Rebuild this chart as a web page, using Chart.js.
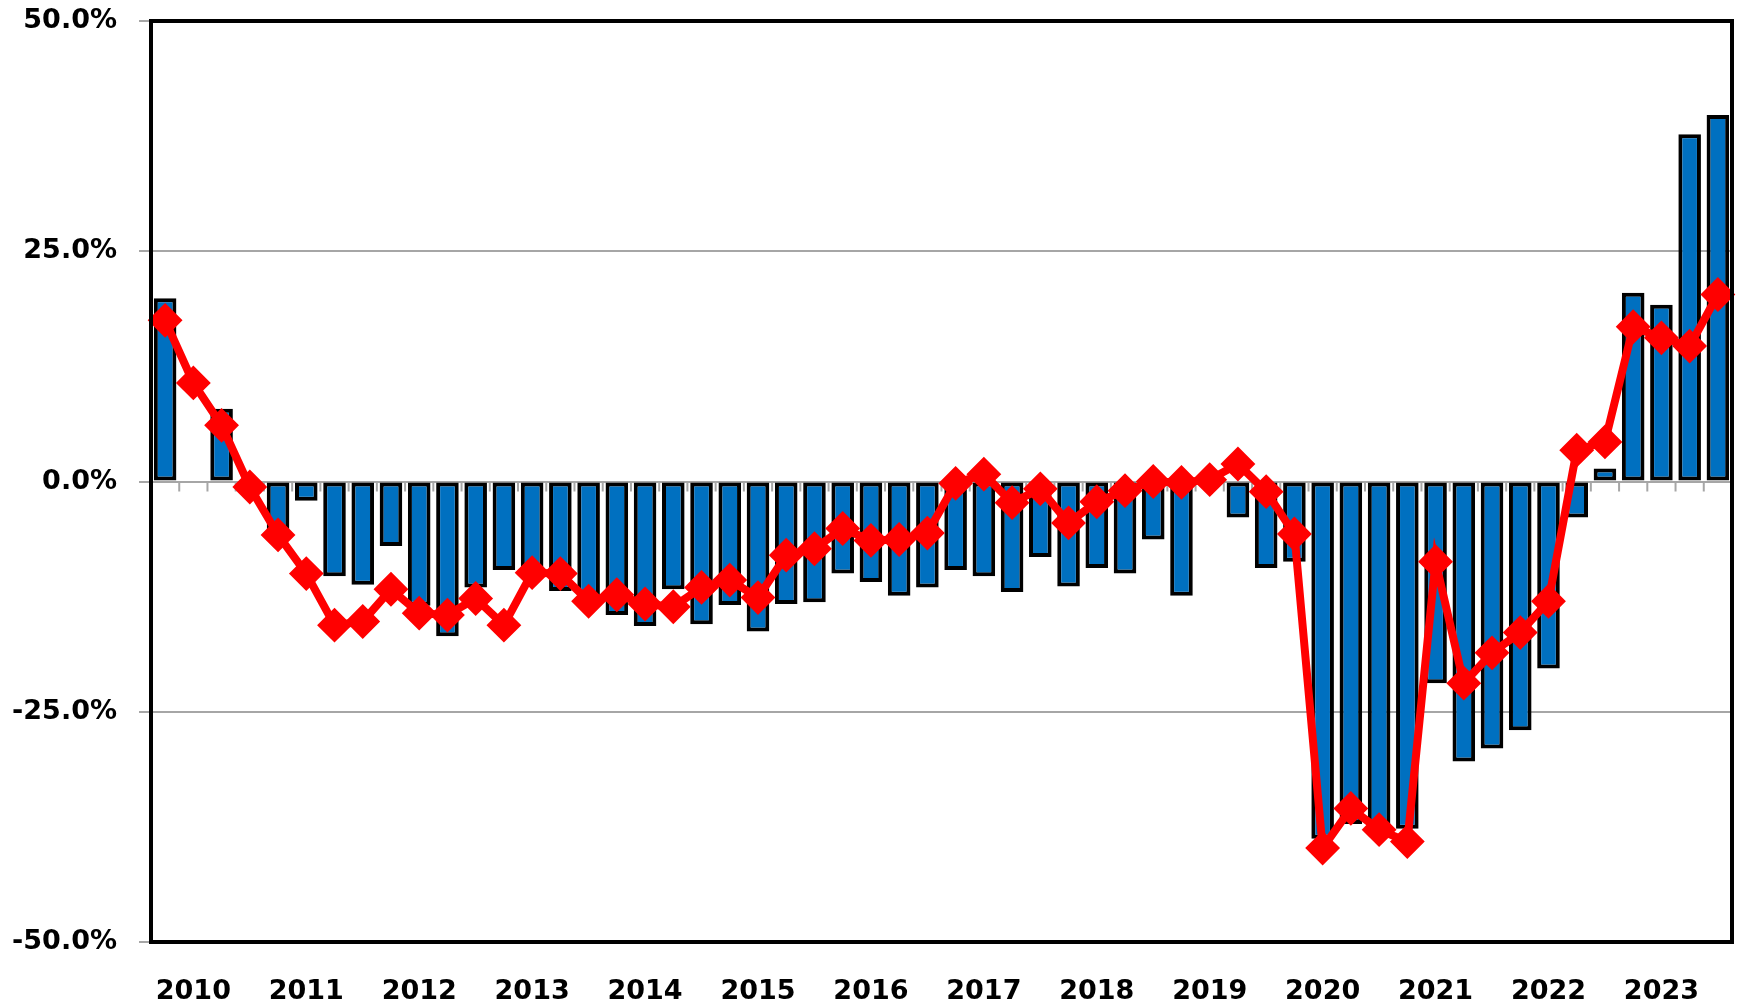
<!DOCTYPE html>
<html>
<head>
<meta charset="utf-8">
<script src="https://cdn.jsdelivr.net/npm/chart.js@4"></script>
<style>
  html, body { margin: 0; padding: 0; background: #fff; }
  #wrap { width: 1750px; height: 1007px; }
</style>
</head>
<body>
<div id="wrap"><canvas id="chart" width="1750" height="1007"></canvas></div>
<script>
const years = ['2010', '2011', '2012', '2013', '2014', '2015', '2016', '2017', '2018', '2019', '2020', '2021', '2022', '2023'];
const quarters = ['Q1', 'Q2', 'Q3', 'Q4'];

// quarterly change (bars)
const barValues = [
  19.9, 0, 7.9, 0,
  -5.6, -2.1, -10.3, -11.2,
  -7.0, -13.5, -16.8, -11.5,
  -9.6, -10.0, -11.9, -13.0,
  -14.5, -15.7, -11.7, -15.5,
  -13.4, -16.3, -13.3, -13.1,
  -10.0, -10.9, -12.4, -11.5,
  -9.6, -10.3, -12.0, -8.2,
  -11.4, -9.4, -10.0, -6.3,
  -12.4, 0, -3.9, -9.4,
  -8.7, -38.8, -37.2, -37.6,
  -37.7, -21.9, -30.4, -29.0,
  -27.0, -20.3, -3.9, 1.4,
  20.5, 19.2, 37.7, 39.8
];

// red line
const lineValues = [
  17.5, 10.7, 6.1, -0.6,
  -5.8, -10.0, -15.6, -15.2,
  -11.7, -14.3, -14.5, -12.7,
  -15.6, -9.9, -10.0, -13.0,
  -12.3, -13.3, -13.6, -11.5,
  -10.7, -12.6, -8.0, -7.3,
  -5.1, -6.4, -6.3, -5.6,
  -0.2, 0.8, -2.3, -0.8,
  -4.5, -2.2, -1.0, 0.0,
  -0.1, 0.2, 1.9, -1.1,
  -5.7, -39.8, -35.5, -37.8,
  -39.1, -8.7, -21.9, -18.6,
  -16.4, -13.0, 3.4, 4.3,
  16.8, 15.6, 14.7, 20.3
];

const yTicks = [-50, -25, 0, 25, 50];

const labels = [];
years.forEach(y => quarters.forEach(q => labels.push(y + ' ' + q)));

const FONT = { family: 'DejaVu Sans', size: 27, weight: 'bold' };

// frame + small ticks on the zero line
const framePlugin = {
  id: 'frame',
  beforeDatasetsDraw(chart) {
    const { ctx, scales: { x, y } } = chart;
    const y0 = y.getPixelForValue(0);
    ctx.save();
    ctx.strokeStyle = '#a6a6a6';
    ctx.lineWidth = 2;
    for (let i = 0; i <= labels.length; i++) {
      const px = (x.getPixelForValue(i - 1) + x.getPixelForValue(i)) / 2;
      ctx.beginPath();
      ctx.moveTo(px, y0);
      ctx.lineTo(px, y0 + 10);
      ctx.stroke();
    }
    ctx.restore();
  },
  afterDraw(chart) {
    const { ctx, chartArea: a } = chart;
    ctx.save();
    ctx.strokeStyle = '#000';
    ctx.lineWidth = 4;
    ctx.strokeRect(a.left, a.top, a.right - a.left, a.bottom - a.top);
    ctx.restore();
  }
};

new Chart(document.getElementById('chart'), {
  data: {
    labels: labels,
    datasets: [
      {
        type: 'line',
        data: lineValues,
        borderColor: '#ff0000',
        backgroundColor: '#ff0000',
        borderWidth: 8,
        pointStyle: 'rectRot',
        pointRadius: 16,
        pointBorderWidth: 2,
        pointBackgroundColor: '#ff0000',
        pointBorderColor: '#ff0000',
        tension: 0,
        order: 0,
      },
      {
        type: 'bar',
        data: barValues,
        backgroundColor: '#0070c0',
        borderColor: '#000000',
        borderWidth: 4,
        borderSkipped: false,
        barPercentage: 0.8,
        categoryPercentage: 1,
        order: 1,
      },
    ],
  },
  options: {
    responsive: false,
    animation: false,
    layout: { padding: { top: 21, right: 12, left: 0, bottom: 0 } },
    plugins: { legend: { display: false }, tooltip: { enabled: false } },
    scales: {
      x: {
        offset: true,
        grid: { display: false },
        border: { display: false },
        ticks: {
          autoSkip: false,
          maxRotation: 0,
          padding: 26,
          color: '#000',
          font: FONT,
          callback: (v, i) => (i % 4 === 1 ? years[(i - 1) / 4] : ''),
        },
        afterFit(scale) {
          scale.height = 65;
          scale.paddingLeft = 0;
          scale.paddingRight = 0;
        },
      },
      y: {
        min: -50,
        max: 50,
        afterBuildTicks(scale) { scale.ticks = yTicks.map(v => ({ value: v })); },
        grid: { color: '#a6a6a6', lineWidth: 2, tickLength: 12, tickColor: '#a6a6a6' },
        border: { display: false },
        ticks: {
          padding: 22,
          color: '#000',
          font: FONT,
          callback: v => v.toFixed(1) + '%',
        },
        afterFit(scale) {
          scale.width = 151;
          scale.paddingTop = 0;
          scale.paddingBottom = 0;
        },
      },
    },
  },
  plugins: [framePlugin],
});
</script>
</body>
</html>
